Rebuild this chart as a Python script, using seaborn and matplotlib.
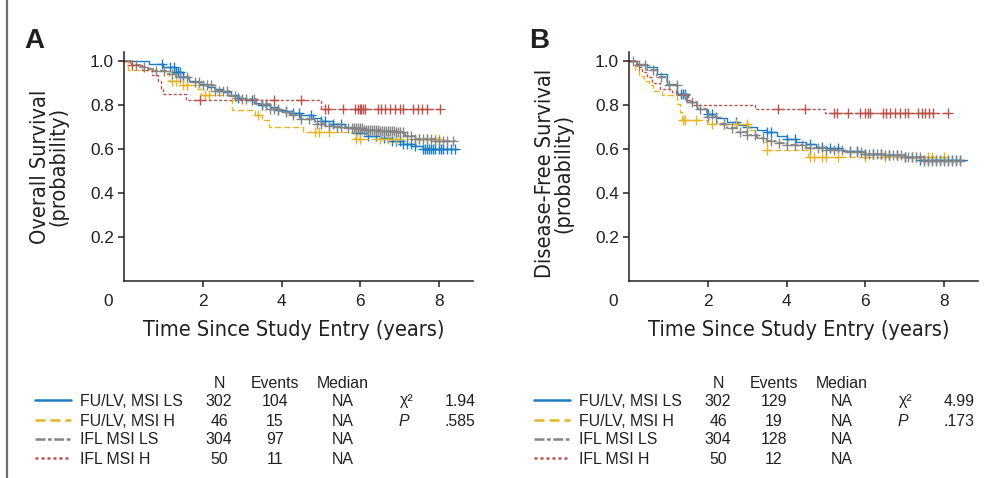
"""
Kaplan-Meier style survival curves by MSI status and treatment arm:
  A - overall survival, B - disease-free survival, each with a stats table.
Writes out.png.
"""
import numpy as np
import matplotlib
matplotlib.use("Agg")
import matplotlib.pyplot as plt
from matplotlib import font_manager
from matplotlib.lines import Line2D
import seaborn as sns

W, H = 987, 478

GROUPS = ["FU/LV, MSI LS", "FU/LV, MSI H", "IFL MSI LS", "IFL MSI H"]
COLORS = ["#1a7cc1", "#e8b423", "#858585", "#b9534c"]
N_PAT = ["302", "46", "304", "50"]
EVENTS_OS = ["104", "15", "97", "11"]
EVENTS_DFS = ["129", "19", "128", "12"]
MEDIAN = ["NA", "NA", "NA", "NA"]
CHI2 = ["1.94", "4.99"]
PVAL = [".585", ".173"]

# ── panel A: overall survival, step knots (years, probability) ──────────
os_blue_t = [0, 0.63, 0.97, 1.3, 1.5, 1.63, 1.9, 2.1, 2.3, 2.5, 2.7, 2.9, 3.1, 3.3, 3.5,
             3.7, 3.9, 4.1, 4.3, 4.5, 4.8, 5.0, 5.3, 5.6, 5.9, 6.2, 6.5, 6.8, 7.1, 7.4,
             7.6, 8.5]
os_blue_s = [1.0, 0.985, 0.972, 0.948, 0.925, 0.91, 0.895, 0.88, 0.87, 0.86, 0.845, 0.832,
             0.822, 0.81, 0.80, 0.79, 0.778, 0.77, 0.763, 0.752, 0.74, 0.728, 0.715, 0.70,
             0.672, 0.66, 0.648, 0.638, 0.622, 0.612, 0.60, 0.60]
os_blue_c = [0.95, 1.15, 1.25, 1.3, 1.35, 1.4, 1.5, 2.9, 3.25, 3.5, 3.6, 3.9, 4.1, 4.3,
             4.45, 4.75, 5.0, 5.1, 5.3, 5.5, 5.9, 6.0, 6.2, 6.4, 6.6, 6.7, 6.8, 6.9, 7.0,
             7.1, 7.2, 7.3, 7.4, 7.6, 7.65, 7.7, 7.75, 7.8, 7.85, 7.9, 8.0, 8.05, 8.1,
             8.2, 8.3, 8.4]

os_yel_t = [0, 0.08, 1.12, 1.42, 1.86, 1.95, 2.73, 3.33, 3.5, 3.67, 4.55, 5.86, 8.03]
os_yel_s = [1.0, 0.96, 0.91, 0.892, 0.872, 0.844, 0.775, 0.752, 0.729, 0.70, 0.677, 0.647,
            0.647]
os_yel_c = [1.2, 1.3, 1.5, 1.6, 2.05, 2.15, 3.4, 4.85, 4.95, 5.2, 5.9, 6.0, 6.5, 6.7, 6.9,
            7.5, 7.7, 7.9, 8.0]

os_grey_t = [0, 0.2, 0.4, 0.6, 0.8, 1.05, 1.3, 1.63, 1.97, 2.3, 2.65, 3.0, 3.35, 3.7, 3.95,
             4.2, 4.5, 4.85, 5.1, 5.36, 5.7, 6.1, 6.5, 6.88, 7.15, 7.4, 7.9, 8.5]
os_grey_s = [1.0, 0.98, 0.97, 0.962, 0.955, 0.94, 0.925, 0.903, 0.888, 0.865, 0.842, 0.827,
             0.805, 0.782, 0.768, 0.752, 0.735, 0.714, 0.705, 0.699, 0.693, 0.688, 0.682,
             0.676, 0.66, 0.645, 0.635, 0.635]
os_grey_c = [0.3, 0.5, 0.8, 1.0, 1.2, 1.4, 1.6, 1.8, 1.9, 2.0, 2.1, 2.2, 2.3, 2.4, 2.5, 2.6,
             2.8, 3.0, 3.1, 3.3, 3.5, 3.6, 3.7, 3.8, 3.9, 4.1, 4.3, 4.5, 4.7, 4.9, 5.0, 5.2,
             5.4, 5.5, 5.7, 5.8, 5.85, 5.9, 5.95, 6.0, 6.05, 6.1, 6.15, 6.2, 6.25, 6.3,
             6.35, 6.4, 6.45, 6.5, 6.55, 6.6, 6.65, 6.7, 6.75, 6.8, 6.85, 6.9, 6.95, 7.0,
             7.1, 7.2, 7.3, 7.4, 7.5, 7.6, 7.7, 7.8, 7.9, 8.0, 8.1, 8.2, 8.35]

os_red_t = [0, 0.15, 0.45, 0.7, 0.85, 0.92, 0.97, 1.56, 5.0, 8.03]
os_red_s = [1.0, 0.98, 0.96, 0.935, 0.91, 0.87, 0.847, 0.824, 0.782, 0.782]
os_red_c = [0.2, 1.92, 3.8, 4.5, 5.1, 5.18, 5.57, 5.87, 5.95, 6.0, 6.03, 6.08, 6.12, 6.46,
            6.54, 6.63, 6.75, 6.88, 7.01, 7.1, 7.35, 7.48, 7.56, 7.69, 8.03]

# ── panel B: disease-free survival ───────────────────────────────────────
dfs_blue_t = [0, 0.19, 0.45, 0.7, 0.95, 1.21, 1.46, 1.72, 1.97, 2.2, 2.48, 2.75, 3.0, 3.25,
              3.5, 3.75, 4.0, 4.25, 4.5, 4.75, 5.0, 5.4, 6.0, 6.5, 7.0, 7.4, 8.58]
dfs_blue_s = [1.0, 0.986, 0.971, 0.941, 0.896, 0.85, 0.812, 0.782, 0.757, 0.74, 0.722, 0.71,
              0.70, 0.685, 0.675, 0.66, 0.645, 0.632, 0.62, 0.61, 0.602, 0.59, 0.579,
              0.572, 0.564, 0.549, 0.549]
dfs_blue_c = [1.3, 1.35, 1.4, 2.0, 2.1, 2.7, 3.0, 3.5, 3.6, 4.0, 4.2, 4.6, 4.9, 5.1, 5.3,
              5.6, 5.8, 6.0, 6.2, 6.4, 6.6, 6.8, 7.0, 7.2, 7.4, 7.5, 7.6, 7.7, 7.8, 7.9,
              8.0, 8.1, 8.2, 8.3, 8.4]

dfs_yel_t = [0, 0.15, 0.23, 0.36, 0.49, 0.61, 0.83, 1.21, 1.29, 1.34, 1.97, 3.05, 3.2, 3.4,
             3.49, 4.55, 8.0]
dfs_yel_s = [1.0, 0.956, 0.933, 0.91, 0.888, 0.865, 0.846, 0.804, 0.767, 0.733, 0.712,
             0.685, 0.662, 0.632, 0.594, 0.564, 0.564]
dfs_yel_c = [1.35, 1.4, 1.7, 2.1, 2.4, 2.7, 3.0, 3.5, 4.6, 4.7, 4.9, 5.0, 5.3, 6.0, 6.5,
             7.3, 7.6, 7.7, 8.0]

dfs_grey_t = [0, 0.19, 0.45, 0.7, 0.95, 1.21, 1.46, 1.72, 1.97, 2.23, 2.48, 2.74, 3.0, 3.25,
              3.5, 3.75, 4.0, 4.5, 5.0, 5.5, 6.0, 6.5, 7.0, 7.5, 8.5]
dfs_grey_s = [1.0, 0.98, 0.956, 0.926, 0.888, 0.843, 0.812, 0.782, 0.744, 0.714, 0.694,
              0.677, 0.661, 0.648, 0.634, 0.625, 0.616, 0.606, 0.594, 0.585, 0.577, 0.571,
              0.565, 0.545, 0.545]
dfs_grey_c = [0.1, 0.25, 0.4, 0.6, 0.8, 1.0, 1.2, 1.4, 1.6, 1.8, 2.0, 2.2, 2.4, 2.6, 2.8,
              3.0, 3.2, 3.4, 3.6, 3.8, 4.0, 4.2, 4.4, 4.6, 4.8, 5.0, 5.2, 5.4, 5.6, 5.8,
              5.9, 6.0, 6.1, 6.2, 6.3, 6.4, 6.5, 6.6, 6.7, 6.8, 6.9, 7.0, 7.1, 7.2, 7.3,
              7.4, 7.5, 7.6, 7.7, 7.8, 7.9, 8.0, 8.1, 8.2, 8.3, 8.4]

dfs_red_t = [0, 0.19, 0.32, 0.45, 0.57, 0.78, 1.08, 1.25, 1.5, 1.59, 3.19, 4.98, 8.14]
dfs_red_s = [1.0, 0.971, 0.95, 0.925, 0.9, 0.873, 0.857, 0.843, 0.822, 0.801, 0.779, 0.761,
             0.761]
dfs_red_c = [3.79, 4.47, 5.2, 5.28, 5.57, 5.87, 6.0, 6.08, 6.12, 6.46, 6.54, 6.63, 6.75,
             6.88, 7.0, 7.1, 7.35, 7.44, 7.52, 7.63, 7.73, 8.11]

PANEL_A = [(os_blue_t, os_blue_s, os_blue_c), (os_yel_t, os_yel_s, os_yel_c),
           (os_grey_t, os_grey_s, os_grey_c), (os_red_t, os_red_s, os_red_c)]
PANEL_B = [(dfs_blue_t, dfs_blue_s, dfs_blue_c), (dfs_yel_t, dfs_yel_s, dfs_yel_c),
           (dfs_grey_t, dfs_grey_s, dfs_grey_c), (dfs_red_t, dfs_red_s, dfs_red_c)]

PLOT_DASHES = [None, (4.5, 2.0), (4.0, 1.5, 1.5, 1.5), (2.2, 1.5)]
KEY_DASHES = [None, (4.0, 2.0), (4.0, 1.0, 1.5, 1.0), (1.2, 1.2)]
LINE_W = [1.0, 1.0, 1.3, 1.0]

sns.set_theme(style="ticks")
plt.rcParams["font.family"] = ["Liberation Sans", "DejaVu Sans"]
INK = "#231f20"


def narrow_font():
    """Find a condensed sans face if one is installed; else None."""
    for f in font_manager.fontManager.ttflist:
        name = f.name.lower()
        narrow = ("narrow" in name or "condensed" in name
                  or f.stretch in ("condensed", "semi-condensed", 600, 700)
                  or "condensed" in f.fname.lower())
        if narrow and f.style == "normal" and f.weight in (400, "normal", "regular") \
                and "mono" not in name and "serif" not in name.replace("sans", ""):
            return font_manager.FontProperties(fname=f.fname)
    return None


NARROW = narrow_font()


def label_kws():
    if NARROW is not None:
        props = NARROW.copy()
        props.set_size(15.6)
        return dict(fontproperties=props, color=INK)
    return dict(family="Liberation Sans", fontsize=15.3, color=INK)


def px(x, y):
    return x / W, 1 - y / H


def survival_at(times, surv, when):
    idx = np.searchsorted(times, when, side="right") - 1
    return np.asarray(surv)[idx]


def draw_panel(ax, curves, ylabel, label_y):
    for (t, s, c), col, dash, lw in zip(curves, COLORS, PLOT_DASHES, LINE_W):
        sns.lineplot(x=t, y=s, ax=ax, estimator=None, sort=False,
                     drawstyle="steps-post", color=col, linewidth=lw)
        if dash is not None:
            ax.lines[-1].set_dashes(dash)
        ax.plot(c, survival_at(t, s, c), linestyle="none", marker="+", markersize=6.5,
                markeredgewidth=1.0, color=col)
    ax.set_xlim(0, 8.87)
    ax.set_ylim(0, 1.04)
    ax.set_xticks([2, 4, 6, 8])
    ax.set_yticks([0.2, 0.4, 0.6, 0.8, 1.0])
    ax.set_yticklabels(["0.2", "0.4", "0.6", "0.8", "1.0"])
    for side in ("top", "right"):
        ax.spines[side].set_visible(False)
    for side in ("left", "bottom"):
        ax.spines[side].set_color(INK)
        ax.spines[side].set_linewidth(1.1)
    ax.tick_params(axis="both", colors=INK, width=1.1, length=4.5, labelsize=12.4,
                   labelcolor=INK)
    ax.tick_params(axis="x", pad=5)
    ax.tick_params(axis="y", pad=3)
    ax.set_xlabel("Time Since Study Entry (years)", **label_kws())
    ax.set_ylabel(ylabel, linespacing=0.95, **label_kws())
    ax.xaxis.set_label_coords(0.485, -0.17)
    ax.yaxis.set_label_coords(-0.16, label_y)


def draw_key(fig, dx, events, chi2, pval):
    fs = 11.4
    kw = dict(va="center", fontsize=fs, color=INK)
    fig.text(*px(219 + dx, 383), "N", ha="center", **kw)
    fig.text(*px(275 + dx, 383), "Events", ha="center", **kw)
    fig.text(*px(343 + dx, 383), "Median", ha="center", **kw)
    rows = [401, 421, 440, 459]
    for i, y in enumerate(rows):
        x0, y0 = px(35 + dx, y - 1)
        x1, _ = px(71 + dx, y - 1)
        ln = Line2D([x0, x1], [y0, y0], transform=fig.transFigure, color=COLORS[i],
                    linewidth=1.8)
        if KEY_DASHES[i] is not None:
            ln.set_dashes(KEY_DASHES[i])
        fig.add_artist(ln)
        fig.text(*px(80 + dx, y), GROUPS[i], ha="left", **kw)
        fig.text(*px(219 + dx, y), N_PAT[i], ha="center", **kw)
        fig.text(*px(275 + dx, y), events[i], ha="center", **kw)
        fig.text(*px(343 + dx, y), MEDIAN[i], ha="center", **kw)
    fig.text(*px(400 + dx, rows[0]), "χ²", ha="left", **kw)
    fig.text(*px(399 + dx, rows[1]), "P", ha="left", style="italic", **kw)
    fig.text(*px(445 + dx, rows[0]), chi2, ha="left", **kw)
    fig.text(*px(445 + dx, rows[1]), pval, ha="left", **kw)


def main():
    fig = plt.figure(figsize=(W / 100, H / 100), dpi=100)
    ax_a = fig.add_axes([124.5 / W, 1 - 281 / H, 348.5 / W, 229 / H])
    ax_b = fig.add_axes([629.5 / W, 1 - 281 / H, 348.5 / W, 229 / H])
    ax_a.patch.set_alpha(0)
    ax_b.patch.set_alpha(0)

    draw_panel(ax_a, PANEL_A, "Overall Survival\n(probability)", 0.50)
    draw_panel(ax_b, PANEL_B, "Disease-Free Survival\n(probability)", 0.47)

    for dx in (0, 505):
        fig.text(*px(108 + dx, 302), "0", ha="center", va="center", fontsize=12.4, color=INK)
    fig.text(*px(24, 41), "A", ha="left", va="center", fontsize=20, weight="bold", color=INK)
    fig.text(*px(529, 41), "B", ha="left", va="center", fontsize=20, weight="bold",
             color=INK)

    draw_key(fig, 0, EVENTS_OS, CHI2[0], PVAL[0])
    draw_key(fig, 499, EVENTS_DFS, CHI2[1], PVAL[1])

    fig.add_artist(Line2D([7.5 / W, 7.5 / W], [0, 1], transform=fig.transFigure,
                          color="#6d6e71", linewidth=1.6))

    fig.savefig("out.png", dpi=100)


if __name__ == "__main__":
    main()
